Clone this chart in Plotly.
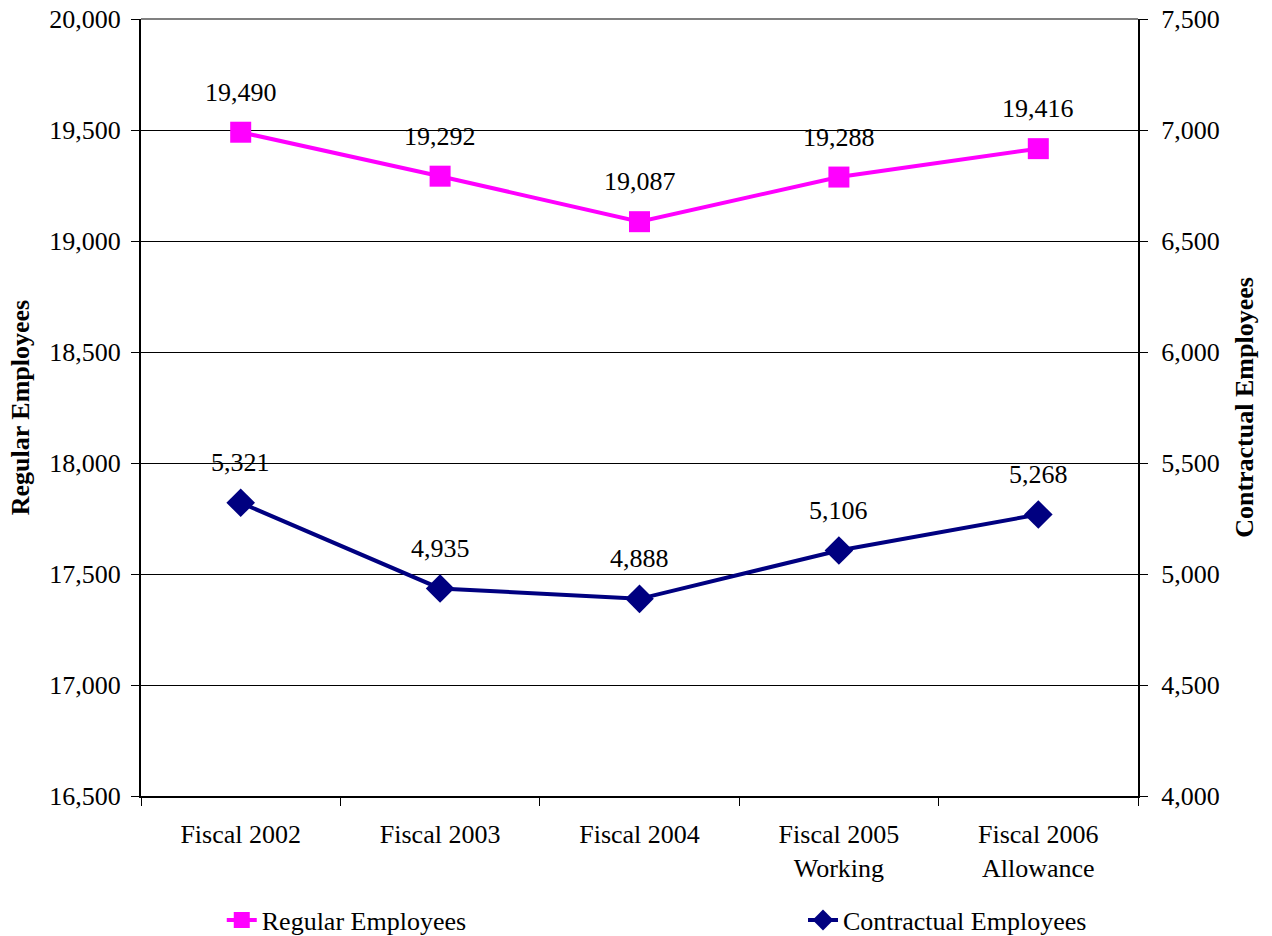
import plotly.graph_objects as go

categories = ["Fiscal 2002", "Fiscal 2003", "Fiscal 2004", "Fiscal 2005<br>Working", "Fiscal 2006<br>Allowance"]
regular = [19490, 19292, 19087, 19288, 19416]
contractual = [5321, 4935, 4888, 5106, 5268]

left_ticks = [16500, 17000, 17500, 18000, 18500, 19000, 19500, 20000]
right_ticks = [4000, 4500, 5000, 5500, 6000, 6500, 7000, 7500]

FONT = "Liberation Serif"
SIZE = 26
MAGENTA = "#FF00FF"
NAVY = "#000080"


def tfont(size=SIZE):
    return dict(family=FONT, size=size, color="black")


fig = go.Figure()
fig.add_trace(go.Scatter(
    x=categories, y=regular, name="Regular Employees",
    mode="lines+markers",
    line=dict(color=MAGENTA, width=4),
    marker=dict(symbol="square", size=21, color=MAGENTA),
    legend="legend", cliponaxis=False,
))
fig.add_trace(go.Scatter(
    x=categories, y=contractual, name="Contractual Employees",
    mode="lines+markers", yaxis="y2",
    line=dict(color=NAVY, width=4),
    marker=dict(symbol="diamond", size=22, color=NAVY),
    legend="legend2", cliponaxis=False,
))

# value labels above each point
for c, v in zip(categories, regular):
    fig.add_annotation(x=c, y=v, yref="y", text=f"{v:,}", showarrow=False,
                       yshift=40, font=tfont())
for c, v in zip(categories, contractual):
    fig.add_annotation(x=c, y=v, yref="y2", text=f"{v:,}", showarrow=False,
                       yshift=40, font=tfont())

# gray top border of the plot area
fig.add_shape(type="line", xref="paper", yref="paper", x0=0, x1=1, y0=1, y1=1,
              line=dict(color="#808080", width=2))

fig.update_layout(
    width=1272, height=936,
    margin=dict(l=141, r=134, t=19, b=140, autoexpand=False),
    paper_bgcolor="white", plot_bgcolor="white",
    font=tfont(),
    xaxis=dict(
        type="category", tickson="boundaries", ticks="outside", ticklen=8,
        tickcolor="black", showline=True, linecolor="black", linewidth=2,
        showgrid=False, tickfont=tfont(), range=[-0.5, 4.5], automargin=False,
        ticklabelstandoff=14,
    ),
    yaxis=dict(
        range=[16500, 20000], tickvals=left_ticks, tickformat=",d",
        ticks="outside", ticklen=8, tickcolor="black",
        showline=True, linecolor="black", linewidth=2,
        showgrid=True, gridcolor="black", gridwidth=1, zeroline=False,
        title=dict(text="<b>Regular Employees</b>", font=tfont(), standoff=12),
        tickfont=tfont(), automargin=False, ticklabelstandoff=5,
    ),
    yaxis2=dict(
        range=[4000, 7500], tickvals=right_ticks, tickformat=",d",
        overlaying="y", side="right",
        ticks="outside", ticklen=8, tickcolor="black",
        showline=True, linecolor="black", linewidth=2,
        showgrid=False, zeroline=False,
        title=dict(text="<b>Contractual Employees</b>", font=tfont(), standoff=16),
        tickfont=tfont(), automargin=False, ticklabelstandoff=8,
    ),
    legend=dict(x=0.081, y=0.017, xref="paper", yref="container",
                xanchor="left", yanchor="middle",
                orientation="h", font=tfont(), bgcolor="rgba(0,0,0,0)"),
    legend2=dict(x=0.664, y=0.017, xref="paper", yref="container",
                 xanchor="left", yanchor="middle",
                 orientation="h", font=tfont(), bgcolor="rgba(0,0,0,0)"),
    showlegend=True,
)

fig.write_html("out.html")
